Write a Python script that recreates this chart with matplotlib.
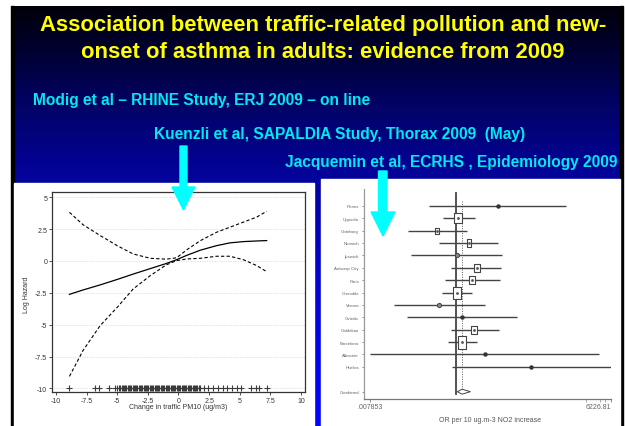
import numpy as np
import matplotlib
matplotlib.use("Agg")
import matplotlib.pyplot as plt
from matplotlib.patches import Rectangle, Polygon
from matplotlib.path import Path
from matplotlib.ticker import NullFormatter

plt.rcParams['font.family'] = ['Liberation Sans', 'DejaVu Sans']

# ---------------- data ----------------
title_lines = ["Association between traffic-related pollution and new-",
               "onset of asthma in adults: evidence from 2009"]
study_lines = ["Modig et al \u2013 RHINE Study, ERJ 2009 \u2013 on line",
               "Kuenzli et al, SAPALDIA Study, Thorax 2009  (May)",
               "Jacquemin et al, ECRHS , Epidemiology 2009"]

# Left chart: spline of log hazard vs change in traffic PM10
pm_x = [-8.9, -7.8, -6.4, -5.0, -3.7, -2.3, -1.0, -0.15, 0.7, 1.8, 3.1, 4.2, 5.3, 6.4, 7.2]
loghaz = [-2.62, -2.28, -1.88, -1.45, -1.03, -0.60, -0.20, 0.10, 0.45, 0.85, 1.20, 1.42, 1.52, 1.57, 1.60]
upper_ci = [3.82, 2.85, 2.00, 1.20, 0.55, 0.21, 0.14, 0.25, 0.89, 1.60, 2.25, 2.65, 3.05, 3.45, 3.90]
lower_ci = [-9.06, -7.04, -5.08, -3.64, -2.20, -1.15, -0.31, 0.03, 0.16, 0.21, 0.37, 0.37, 0.10, -0.37, -0.84]
rug_x = [-8.9, -6.8, -6.5, -5.65, -5.2, -5.0, -4.85, -4.75, -4.65, -4.55, -4.45, -4.35, -4.25,
         -4.15, -4.05, -3.95, -3.85, -3.75, -3.65, -3.55, -3.45, -3.35, -3.25, -3.15, -3.05,
         -2.95, -2.85, -2.75, -2.65, -2.55, -2.45, -2.35, -2.25, -2.15, -2.05, -1.95, -1.85,
         -1.75, -1.65, -1.55, -1.45, -1.35, -1.25, -1.15, -1.05, -0.95, -0.85, -0.75, -0.65,
         -0.55, -0.45, -0.35, -0.25, -0.15, -0.05, 0.05, 0.15, 0.25, 0.35, 0.45, 0.55, 0.65,
         0.75, 0.85, 0.95, 1.05, 1.15, 1.25, 1.35, 1.45, 1.55, 1.65, 1.75,
         2.08, 2.44, 2.84, 3.25, 3.6, 3.93, 4.34, 4.75, 5.07, 5.9, 6.3, 6.6, 7.2]
left_xticks = [-10, -7.5, -5, -2.5, 0, 2.5, 5, 7.5, 10]
left_xticklabels = ["-10", "-7.5", "-5", "-2.5", "0", "2.5", "5", "7.5", "10"]
left_yticks = [5, 2.5, 0, -2.5, -5, -7.5, -10]
left_yticklabels = ["5", "2.5", "0", "-2.5", "-5", "-7.5", "-10"]

# Right chart: forest plot, OR per 10 ug/m3 NO2
centres = ["Reims", "Uppsala", "Goteborg", "Norwich", "Ipswich", "Antwerp City", "Paris",
           "Grenoble", "Verona", "Oviedo", "Galdakao", "Barcelona", "Albacete", "Huelva"]
or_est = [10.7, 1.12, 0.35, 2.05, 1.04, 3.2, 2.5, 1.08, 0.39, 1.41, 2.83, 1.44, 5.0, 69.0]
or_lo = [0.22, 0.48, 0.068, 0.39, 0.079, 0.745, 0.53, 0.46, 0.030, 0.063, 0.745, 0.64, 0.0082, 0.80]
or_hi = [496, 2.88, 1.88, 10.7, 13.6, 12.9, 12.0, 2.5, 5.2, 31.6, 11.1, 3.2, 3120, 6000]
weights = [0, 10, 6, 6.5, 3.5, 7.5, 7, 11, 3.5, 0, 7, 12, 0, 0]
combined_label = "Combined"
combined = [1.08, 1.41, 2.26]   # lo, est, hi
forest_xticks = [0.007853, 6226.81]
forest_xticklabels = [".007853", "6226.81"]
forest_minor = [1469, 3240, 4270]

# ---------------- figure ----------------
W, H = 625, 427
fig = plt.figure(figsize=(W / 100, H / 100), dpi=100)


def rect(x0, y0, x1, y1):
    return [x0 / W, 1 - y1 / H, (x1 - x0) / W, (y1 - y0) / H]


bg = fig.add_axes([0, 0, 1, 1])
bg.set_xlim(0, W)
bg.set_ylim(H, 0)
bg.axis('off')

# slide gradient
yy = np.linspace(7, 427, 300)
blue = np.interp(yy, [7, 60, 100, 180, 300, 427], [0.04, 0.22, 0.38, 0.62, 0.85, 1.0])
grad = np.zeros((len(yy), 1, 3))
grad[:, 0, 2] = blue
grad[:, 0, 0] = blue * 0.02
grad[:, 0, 1] = blue * 0.02
bg.imshow(grad, extent=[11, 623, 427, 7], aspect='auto', zorder=0)
bg.add_patch(Rectangle((11, 7), 3, 420, color='black', zorder=1))
bg.add_patch(Rectangle((620, 7), 3, 420, color='black', zorder=1))
bg.add_patch(Rectangle((14, 184), 300, 243, color='white', zorder=1))
bg.add_patch(Rectangle((321, 180), 299, 247, color='white', zorder=1))

bg.text(323, 26, title_lines[0], color='#ffff00', fontsize=15.8, fontweight='bold',
        ha='center', va='center', zorder=2)
bg.text(322.5, 52, title_lines[1], color='#ffff00', fontsize=15.8, fontweight='bold',
        ha='center', va='center', zorder=2)
cyan_txt = '#00e8f0'
bg.text(33, 100, study_lines[0], color=cyan_txt, fontsize=11.2, fontweight='bold',
        ha='left', va='center', zorder=2)
bg.text(154, 135, study_lines[1], color=cyan_txt, fontsize=11.2, fontweight='bold',
        ha='left', va='center', zorder=2)
bg.text(285, 163, study_lines[2], color=cyan_txt, fontsize=11.2, fontweight='bold',
        ha='left', va='center', zorder=2)

# ---------------- left chart ----------------
ax = fig.add_axes(rect(51.7, 193.3, 305, 393.3))
ax.set_xlim(-10.35, 10.33)
ax.set_ylim(-10.31, 5.39)
for yv in left_yticks:
    ax.axhline(yv, color='#c8c8c8', lw=0.5, ls=(0, (1, 1.5)), zorder=0)
ax.plot(pm_x, loghaz, color='black', lw=0.9)
ax.plot(pm_x, upper_ci, color='black', lw=0.8, ls=(0, (3, 2)))
ax.plot(pm_x, lower_ci, color='black', lw=0.8, ls=(0, (3, 2)))
ax.plot(rug_x, [-10] * len(rug_x), ls='none', marker='+', ms=3.8, mew=0.8, color='#3a3a3a')
ax.set_xticks(left_xticks)
ax.set_xticklabels(left_xticklabels)
ax.set_yticks(left_yticks)
ax.set_yticklabels(left_yticklabels)
ax.tick_params(labelsize=5, colors='#333333', length=2.2, width=0.6, pad=1)
for s in ax.spines.values():
    s.set_color('#333333')
    s.set_linewidth(0.9)
ax.set_xlabel("Change in traffic PM10 (ug/m3)", fontsize=5, color='#333333')
ax.xaxis.set_label_coords(0.5, -0.052)
ax.set_ylabel("Log Hazard", fontsize=5, color='#333333')
ax.yaxis.set_label_coords(-0.085, 0.49)

# ---------------- right chart (forest) ----------------
fx = fig.add_axes(rect(363.7, 190, 611.3, 400))
fx.set_facecolor('none')
fx.set_xscale('log')
fx.set_xlim(0.00561, 6226.81)
fx.set_ylim(15.59, -1.35)
rows = list(range(len(centres)))
comb_row = len(centres) + 1

fx.plot([1, 1], [-1.0, 15.2], color='#444444', lw=1.3, zorder=1)
fx.plot([combined[1], combined[1]], [-0.4, 14.8], color='#555555', lw=0.7,
        ls=(0, (1, 1.5)), zorder=1)
fx.hlines(rows, or_lo, or_hi, color='#444444', lw=1.0, zorder=2)

box_path = Path([(-0.33, -0.5), (0.33, -0.5), (0.33, 0.5), (-0.33, 0.5), (-0.33, -0.5)],
                [Path.MOVETO, Path.LINETO, Path.LINETO, Path.LINETO, Path.CLOSEPOLY])
for r, e, w in zip(rows, or_est, weights):
    if w == 0:
        fx.plot([e], [r], marker='o', ms=2.2, color='#333333', zorder=3)
    elif w < 5:
        fx.plot([e], [r], marker='o', ms=3.0, mfc='#888888', mec='#444444', mew=0.7, zorder=3)
    else:
        fx.plot([e], [r], marker=box_path, ms=w * 0.78, mfc='white', mec='#444444',
                mew=0.8, zorder=3)
        fx.plot([e], [r], marker='o', ms=1.0, color='#555555', zorder=4)

diamond = Polygon([(combined[0], comb_row), (combined[1], comb_row - 0.2),
                   (combined[2], comb_row), (combined[1], comb_row + 0.2)],
                  closed=True, fc='white', ec='#444444', lw=0.7, zorder=3)
fx.add_patch(diamond)

fx.set_yticks(rows + [comb_row])
fx.set_yticklabels(centres + [combined_label])
fx.set_xticks(forest_xticks)
fx.set_xticklabels(forest_xticklabels)
fx.get_xticklabels()[1].set_horizontalalignment('right')
fx.set_xticks(forest_minor, minor=True)
fx.xaxis.set_minor_formatter(NullFormatter())
fx.tick_params(axis='y', labelsize=3.2, colors='#666666', length=1.8, width=0.5, pad=1.5)
fx.tick_params(axis='x', which='major', labelsize=5, colors='#666666', length=2, width=0.5, pad=1)
fx.tick_params(axis='x', which='minor', length=2, width=0.5, colors='#888888')
fx.spines['top'].set_visible(False)
fx.spines['right'].set_visible(False)
fx.spines['left'].set_color('#999999')
fx.spines['bottom'].set_color('#777777')
fx.spines['left'].set_linewidth(0.9)
fx.spines['bottom'].set_linewidth(0.9)
fx.set_xlabel("OR per 10 ug.m-3 NO2 increase", fontsize=5, color='#555555')
fx.xaxis.set_label_coords(0.51, -0.08)

# ---------------- arrows overlay ----------------
ov = fig.add_axes([0, 0, 1, 1], zorder=10)
ov.set_xlim(0, W)
ov.set_ylim(H, 0)
ov.axis('off')
ov.patch.set_alpha(0)
arrow_col = '#00ffff'
ov.add_patch(Polygon([(180, 147), (187, 147), (187, 188), (195, 188), (183.5, 211),
                      (172, 188), (180, 188)], closed=True, color=arrow_col))
ov.add_patch(Polygon([(378.5, 172), (387, 172), (387, 213), (395, 213), (383, 237),
                      (371, 213), (378.5, 213)], closed=True, color=arrow_col))

fig.savefig("out.png", dpi=100)
